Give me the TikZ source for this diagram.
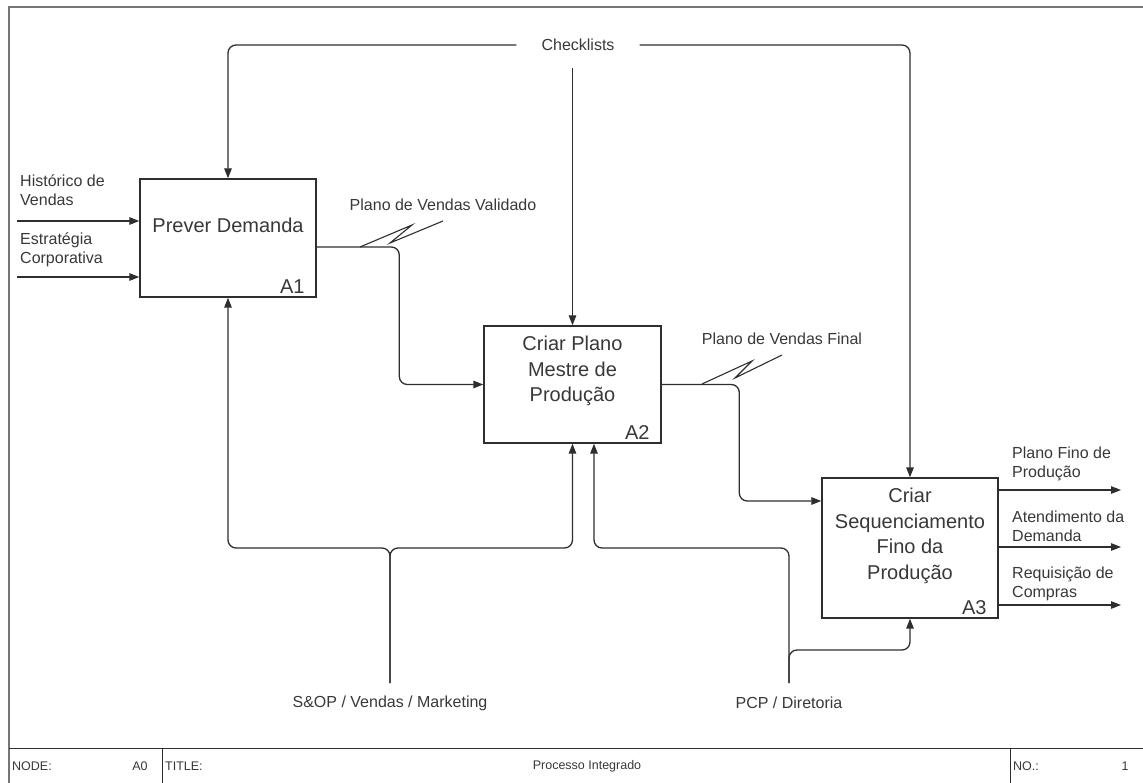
\documentclass[tikz,border=0pt]{standalone}
\usepackage{fontspec}
\setmainfont{Liberation Sans}
\usetikzlibrary{arrows.meta, positioning}
\definecolor{linegray}{HTML}{2E2E2E}
\definecolor{textgray}{HTML}{383838}
\definecolor{framegray}{HTML}{767676}

\begin{document}
\begin{tikzpicture}[x=1pt, y=-1pt]
\tikzstyle{func} = [rectangle, draw=linegray, line width=1.4pt, minimum width=176pt, minimum height=118pt, inner sep=0pt]
\tikzstyle{functext} = [align=center, font=\fontsize{20}{25.5}\selectfont, text=textgray]
\tikzstyle{num} = [anchor=south east, inner sep=0pt, font=\fontsize{20}{22}\selectfont, text=textgray]
\tikzstyle{lbl} = [align=left, inner sep=0pt, font=\fontsize{16}{19}\selectfont, text=textgray]
\tikzstyle{arrow} = [line width=1.3pt, draw=linegray, rounded corners=8pt, -{Triangle[length=10pt,width=7.5pt]}]
\tikzstyle{wire} = [line width=1.1pt, draw=linegray]
\tikzstyle{bar} = [inner sep=0pt, font=\fontsize{12.5}{14}\selectfont, text=textgray]

\useasboundingbox (0,0) rectangle (1143,783);

% frame and title bar
\draw[framegray, line width=2.5pt] (9,783) -- (9,7) -- (1143,7);
\draw[linegray, line width=0.8pt] (9,748) -- (1143,748) (162,748) -- (162,783) (1010,748) -- (1010,783);
\node[bar, anchor=west] (nodelbl) at (12,766) {NODE:};
\node[bar] (nodeval) at (140,766) {A0};
\node[bar, anchor=west] (titlelbl) at (165,766) {TITLE:};
\node[bar] (titleval) at (587,766) {Processo Integrado};
\node[bar, anchor=west] (nolbl) at (1013,766) {NO.:};
\node[bar] (noval) at (1125,766) {1};

% functions
\node[func] (a1) at (228,238) {};
\node[func, minimum width=177pt, minimum height=117pt] (a2) at (572.5,384.5) {};
\node[func, minimum height=140pt] (a3) at (910,548) {};

\node[functext] (a1text) at ([yshift=13pt]a1.center) {Prever Demanda};
\node[functext] (a2text) at ([yshift=13.5pt]a2.center) {Criar Plano\\Mestre de\\Produção};
\node[functext] (a3text) at ([yshift=12pt]a3.center) {Criar\\Sequenciamento\\Fino da\\Produção};
\node[num] (a1num) at ([xshift=-12pt,yshift=4pt]a1.south east) {A1};
\node[num] (a2num) at ([xshift=-12pt,yshift=4pt]a2.south east) {A2};
\node[num] (a3num) at ([xshift=-12pt,yshift=4pt]a3.south east) {A3};

% inputs
\node[lbl, anchor=west] (hist) at (20,190.5) {Histórico de\\Vendas};
\node[lbl, anchor=west] (estr) at (20,249.5) {Estratégia\\Corporativa};
\coordinate (histin) at (17,221);
\coordinate (estrin) at (17,277);
\draw[arrow] (histin) -- (histin -| a1.west);
\draw[arrow] (estrin) -- (estrin -| a1.west);

% controls
\node[lbl, inner xsep=25pt] (chk) at (578,45) {Checklists};
\coordinate (chkdown) at (572.5,68);
\draw[arrow] (chk.west) -| (a1.north);
\draw[arrow] (chk.east) -| (a3.north);
\draw[arrow] (chkdown) -- (a2.north);

% flows between functions
\draw[arrow] ([yshift=-9pt]a1.east) -| ([xshift=-84pt]a2.west) -- (a2.west);
\draw[arrow] (a2.east) -| ([xshift=-82pt,yshift=47pt]a3.west) -- ([yshift=47pt]a3.west);
\node[lbl] (pvv) at (443,205) {Plano de Vendas Validado};
\node[lbl] (pvf) at (782,339) {Plano de Vendas Final};
\draw[wire] (360,247) -- ++(52,-22) -- ++(-22,18) -- (pvv.south |- 0,221);
\draw[wire] (702,384) -- ++(50,-23) -- ++(-17,17) -- (pvf.south |- 0,355);

% mechanisms
\node[lbl] (sop) at (390,703) {S\&OP / Vendas / Marketing};
\node[lbl] (pcp) at (789,703) {PCP / Diretoria};
\coordinate (sopup) at (390,683);
\coordinate (pcpup) at (789,683);
\draw[arrow] (sopup) -- ++(0,-135) -| (a1.south);
\draw[arrow] (sopup) -- ++(0,-135) -| (a2.south);
\draw[arrow] (pcpup) -- ++(0,-135) -| ([xshift=21.5pt]a2.south);
\draw[arrow] (pcpup) -- ++(0,-33) -| (a3.south);

% outputs
\node[lbl, anchor=west] (pfp) at (1012,464) {Plano Fino de\\Produção};
\node[lbl, anchor=west] (atd) at (1012,526) {Atendimento da\\Demanda};
\node[lbl, anchor=west] (req) at (1012,583.5) {Requisição de\\Compras};
\coordinate (pfpout) at (1121,490);
\coordinate (atdout) at (1121,547);
\coordinate (reqout) at (1121,605);
\draw[arrow] (pfpout -| a3.east) -- (pfpout);
\draw[arrow] (atdout -| a3.east) -- (atdout);
\draw[arrow] (reqout -| a3.east) -- (reqout);
\end{tikzpicture}
\end{document}
